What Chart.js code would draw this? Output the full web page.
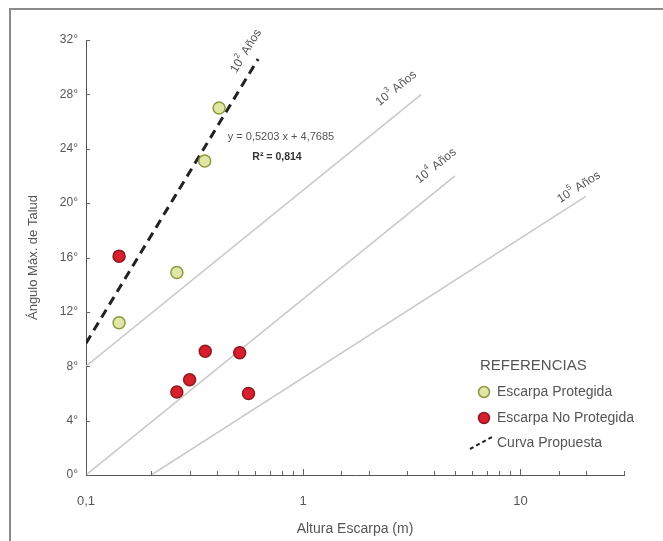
<!DOCTYPE html>
<html lang="es">
<head>
<meta charset="utf-8">
<title>Ángulo máximo de talud vs altura de escarpa</title>
<script src="https://cdn.jsdelivr.net/npm/chart.js@4.4.1/dist/chart.umd.min.js"></script>
<style>
  html, body { margin: 0; padding: 0; background: #fff; }
  #grafico { display: block; }
</style>
</head>
<body>
<canvas id="grafico" width="663" height="541"></canvas>
<script>
// Datos (x en metros, y en grados)
const protegidaX = [0.142, 0.262, 0.352, 0.41];
const protegidaY = [11.2, 14.9, 23.1, 27.0];

const noProtegidaX = [0.142, 0.262, 0.30, 0.354, 0.51, 0.56];
const noProtegidaY = [16.1, 6.1, 7.0, 9.1, 9.0, 6.0];

// Curva propuesta (10^2 años) y lineas de edad
const curvaX = [0.1, 0.62];
const curvaY = [9.7, 30.6];
const linea3X = [0.1, 3.5];
const linea3Y = [8, 28];
const linea4X = [0.1, 5];
const linea4Y = [0, 22];
const linea5X = [0.2, 20];
const linea5Y = [0, 20.5];

const exponentes = ['2', '3', '4', '5'];

// Ticks
const yTicks = [0, 4, 8, 12, 16, 20, 24, 28, 32];
const xEtiquetasValor = [0.1, 1, 10];
const xEtiquetasTexto = ['0,1', '1', '10'];

const FUENTE = '"Liberation Sans", Arial, sans-serif';
const GRIS_TEXTO = '#555';

function puntos(xs, ys) {
    return xs.map((x, i) => ({ x: x, y: ys[i] }));
}

function buscarEtiqueta(value) {
    for (let i = 0; i < xEtiquetasValor.length; i++) {
        if (Math.abs(value - xEtiquetasValor[i]) < xEtiquetasValor[i] * 1e-6) return i;
    }
    return -1;
}

// Texto "10^n Años" con superindice, centrado en (0,0)
function dibujarEdad(ctx, exp) {
    ctx.font = '12px ' + FUENTE;
    const w1 = ctx.measureText('10').width;
    const w3 = ctx.measureText(' Años').width;
    ctx.font = '8px ' + FUENTE;
    const w2 = ctx.measureText(exp).width;
    const total = w1 + w2 + w3;
    let x = -total / 2;
    ctx.textBaseline = 'middle';
    ctx.textAlign = 'left';
    ctx.font = '12px ' + FUENTE;
    ctx.fillText('10', x, 0);
    x += w1;
    ctx.font = '8px ' + FUENTE;
    ctx.fillText(exp, x, -5);
    x += w2;
    ctx.font = '12px ' + FUENTE;
    ctx.fillText(' Años', x, 0);
}

// Marcas de los ejes hacia adentro
const marcasInternas = {
    id: 'marcasInternas',
    afterDatasetsDraw(chart) {
        const { ctx, chartArea, scales: { x, y } } = chart;
        ctx.save();
        ctx.strokeStyle = '#666';
        ctx.lineWidth = 1;
        ctx.beginPath();
        x.ticks.forEach(t => {
            const px = Math.round(x.getPixelForValue(t.value)) + 0.5;
            const largo = buscarEtiqueta(t.value) >= 0 ? 6 : 4;
            ctx.moveTo(px, chartArea.bottom);
            ctx.lineTo(px, chartArea.bottom - largo);
        });
        y.ticks.forEach(t => {
            const py = Math.round(y.getPixelForValue(t.value)) + 0.5;
            ctx.moveTo(chartArea.left, py);
            ctx.lineTo(chartArea.left + 4, py);
        });
        ctx.stroke();
        ctx.restore();
    }
};

// Etiquetas de edad, ecuacion, leyenda y marco
const anotaciones = {
    id: 'anotaciones',
    afterDraw(chart) {
        const { ctx, scales: { x, y } } = chart;
        ctx.save();

        // marco exterior
        ctx.strokeStyle = '#8a8a8a';
        ctx.lineWidth = 2;
        ctx.beginPath();
        ctx.moveTo(663, 9);
        ctx.lineTo(10, 9);
        ctx.lineTo(10, 541);
        ctx.stroke();

        // etiquetas de las lineas de edad
        const lineas = [[curvaX, curvaY], [linea3X, linea3Y], [linea4X, linea4Y], [linea5X, linea5Y]];
        const desplaz = [[-12, -8], [-25, -6], [-19, -10], [-7, -9]];
        ctx.fillStyle = GRIS_TEXTO;
        lineas.forEach((l, i) => {
            const x0 = x.getPixelForValue(l[0][0]), y0 = y.getPixelForValue(l[1][0]);
            const x1 = x.getPixelForValue(l[0][1]), y1 = y.getPixelForValue(l[1][1]);
            const ang = Math.atan2(y1 - y0, x1 - x0);
            ctx.save();
            ctx.translate(x1 + desplaz[i][0], y1 + desplaz[i][1]);
            ctx.rotate(ang);
            dibujarEdad(ctx, exponentes[i]);
            ctx.restore();
        });

        // ecuacion de la curva
        ctx.textAlign = 'center';
        ctx.textBaseline = 'middle';
        ctx.fillStyle = GRIS_TEXTO;
        ctx.font = '11px ' + FUENTE;
        ctx.fillText('y = 0,5203 x + 4,7685', 281, 137);
        ctx.fillStyle = '#333';
        ctx.font = 'bold 10.5px ' + FUENTE;
        ctx.fillText('R² = 0,814', 277, 157);

        // leyenda
        ctx.textAlign = 'left';
        ctx.fillStyle = GRIS_TEXTO;
        ctx.font = '15px ' + FUENTE;
        ctx.fillText('REFERENCIAS', 480, 366);
        ctx.font = '14px ' + FUENTE;
        ctx.fillText('Escarpa Protegida', 497, 392);
        ctx.fillText('Escarpa No Protegida', 497, 418);
        ctx.fillText('Curva Propuesta', 497, 443);

        ctx.lineWidth = 1.5;
        ctx.beginPath();
        ctx.arc(484, 392, 5.5, 0, Math.PI * 2);
        ctx.fillStyle = '#dfe6a6';
        ctx.fill();
        ctx.strokeStyle = '#8c9a3c';
        ctx.stroke();
        ctx.beginPath();
        ctx.arc(484, 418, 5.5, 0, Math.PI * 2);
        ctx.fillStyle = '#d71f2d';
        ctx.fill();
        ctx.strokeStyle = '#8e1a1f';
        ctx.stroke();

        ctx.strokeStyle = '#222';
        ctx.lineWidth = 2;
        ctx.setLineDash([4, 3]);
        ctx.beginPath();
        ctx.moveTo(470, 449);
        ctx.lineTo(492, 437);
        ctx.stroke();

        ctx.restore();
    }
};

new Chart(document.getElementById('grafico'), {
    type: 'scatter',
    data: {
        datasets: [
            {
                label: 'Escarpa Protegida',
                data: puntos(protegidaX, protegidaY),
                backgroundColor: '#dfe6a6',
                borderColor: '#8c9a3c',
                borderWidth: 1.5,
                pointRadius: 6
            },
            {
                label: 'Escarpa No Protegida',
                data: puntos(noProtegidaX, noProtegidaY),
                backgroundColor: '#d71f2d',
                borderColor: '#8e1a1f',
                borderWidth: 1.5,
                pointRadius: 6
            },
            {
                label: 'Curva Propuesta',
                type: 'line',
                data: puntos(curvaX, curvaY),
                borderColor: '#222',
                borderWidth: 3,
                borderDash: [9, 6],
                pointRadius: 0,
                fill: false
            },
            {
                label: '10³ Años',
                type: 'line',
                data: puntos(linea3X, linea3Y),
                borderColor: '#c8c8c8',
                borderWidth: 1.5,
                pointRadius: 0,
                fill: false
            },
            {
                label: '10⁴ Años',
                type: 'line',
                data: puntos(linea4X, linea4Y),
                borderColor: '#c8c8c8',
                borderWidth: 1.5,
                pointRadius: 0,
                fill: false
            },
            {
                label: '10⁵ Años',
                type: 'line',
                data: puntos(linea5X, linea5Y),
                borderColor: '#c8c8c8',
                borderWidth: 1.5,
                pointRadius: 0,
                fill: false
            }
        ]
    },
    options: {
        responsive: false,
        animation: false,
        events: [],
        layout: { padding: { top: 40, right: 39, bottom: 0, left: 0 } },
        plugins: {
            legend: { display: false },
            tooltip: { enabled: false }
        },
        scales: {
            x: {
                type: 'logarithmic',
                min: 0.1,
                max: 30,
                afterFit: s => { s.height = 66; },
                grid: { display: true, drawOnChartArea: false, drawTicks: false },
                border: { color: '#555', width: 1 },
                ticks: {
                    autoSkip: false,
                    maxRotation: 0,
                    minRotation: 0,
                    padding: 19,
                    color: GRIS_TEXTO,
                    font: { family: FUENTE, size: 13 },
                    callback: function (value) {
                        const i = buscarEtiqueta(value);
                        return i >= 0 ? xEtiquetasTexto[i] : '';
                    }
                },
                title: {
                    display: true,
                    text: 'Altura Escarpa (m)',
                    color: GRIS_TEXTO,
                    font: { family: FUENTE, size: 14 },
                    padding: { top: 0, bottom: 3 }
                }
            },
            y: {
                min: 0,
                max: 32,
                afterFit: s => { s.width = 86; },
                afterBuildTicks: s => { s.ticks = yTicks.map(v => ({ value: v })); },
                grid: { display: true, drawOnChartArea: false, drawTicks: false },
                border: { color: '#555', width: 1 },
                ticks: {
                    padding: 8,
                    color: GRIS_TEXTO,
                    font: { family: FUENTE, size: 12 },
                    callback: v => v + '°'
                },
                title: {
                    display: true,
                    text: 'Ángulo Máx. de Talud',
                    color: GRIS_TEXTO,
                    font: { family: FUENTE, size: 13 },
                    padding: { top: 26, bottom: 0 }
                }
            }
        }
    },
    plugins: [marcasInternas, anotaciones]
});
</script>
</body>
</html>
